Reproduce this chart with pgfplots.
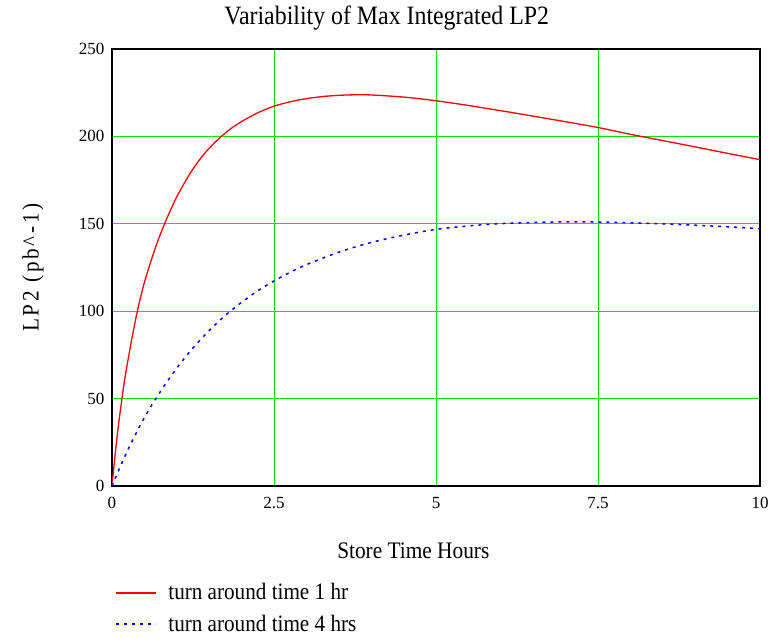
\documentclass[border=0pt]{standalone}
\usepackage{fontspec}
\setmainfont{Liberation Serif}
\newfontfamily\cond{Liberation Serif}[FakeStretch=0.9]
\newfontfamily\condsp{Liberation Serif}[FakeStretch=0.9,LetterSpace=12]
\usepackage{pgfplots}
\pgfplotsset{compat=1.18}
\definecolor{gridgreen}{RGB}{0,230,0}
\pgfplotstableread{
t v
0 0
0.05 18.5
0.1 35
0.15 49
0.2 62
0.3 83
0.4 101.5
0.5 116.5
0.6 128.5
0.7 139.5
0.8 149
0.9 157.5
1.0 165.5
1.2 178.5
1.4 189
1.6 197
1.8 203.5
2.0 208.5
2.25 213.5
2.5 217.3
2.75 219.8
3.0 221.6
3.25 222.8
3.5 223.5
3.75 223.8
4.0 223.7
4.5 222.5
5.0 220.4
5.5 217.7
6.0 214.7
6.5 211.6
7.0 208.4
7.5 205.1
8.0 201.2
8.5 197.6
9.0 194
9.5 190.3
10 186.7
}\redtab
\pgfplotstableread{
t v
0 0
0.1 8.8
0.2 17.1
0.3 24.9
0.4 32.2
0.5 39.1
0.6 45.5
0.7 51.3
0.8 57
1.0 67.5
1.2 76.8
1.4 85.1
1.6 92.6
1.8 99.2
2.0 105.1
2.25 111.7
2.5 117.3
2.75 122.3
3.0 126.6
3.5 133.8
4.0 139.3
4.5 143.5
5.0 146.8
5.5 148.8
6.0 150.1
6.5 150.8
7.0 151.1
7.5 151.0
8.0 150.6
8.5 150
9.0 149.2
9.5 148.3
10 147.2
}\bluetab
\begin{document}
\begin{tikzpicture}
\useasboundingbox (-112pt,-152pt) rectangle (661pt,486pt);
\begin{axis}[
  at={(0pt,0pt)}, anchor=south west,
  scale only axis, width=648pt, height=437pt,
  xmin=0, xmax=10, ymin=0, ymax=250,
  xtick={0,2.5,5,7.5,10}, ytick={0,50,100,150,200,250},
  major tick length=0pt,
  grid=major,
  major grid style={gridgreen, line width=1pt},
  axis line style={black, line width=1.5pt},
  /pgf/number format/assume math mode=true,
  ticklabel style={font=\fontsize{17}{20}\selectfont},
  yticklabel style={anchor=east, inner sep=0pt, xshift=-7.5pt},
  xticklabel style={anchor=north, inner sep=0pt, yshift=-11pt},
  title={\cond Variability of Max Integrated LP2},
  title style={at={(axis description cs:0.424,1.042)}, anchor=base, inner sep=0pt, font=\fontsize{26.5}{30}\selectfont},
  xlabel={\cond Store Time Hours},
  xlabel style={at={(axis description cs:0.465,-0.1654)}, anchor=base, inner sep=0pt, font=\fontsize{23.7}{26}\selectfont},
  ylabel={\condsp LP2 (pb\textasciicircum-1)},
  ylabel style={at={(axis description cs:-0.1219,0.5)}, anchor=center, inner sep=0pt, rotate=0, font=\fontsize{23.5}{26}\selectfont},
  legend cell align=left,
  legend style={at={(axis description cs:0.0046,-0.2235)}, anchor=north west, draw=none, fill=none,
    inner sep=0pt, row sep=13.3pt, column sep=11.7pt,
    font=\cond\fontsize{23.5}{26}\selectfont,
    nodes={inner sep=0pt, text height=16pt, text depth=2pt, anchor=base west}},
  legend image code/.code={\draw[#1] (0pt,7pt) -- (40pt,7pt);},
]
\addplot[red, line width=1.3pt, smooth] table[x=t, y=v] {\redtab};
\addlegendentry{turn around time 1 hr}
\addplot[blue, line width=1.5pt, dash pattern=on 3pt off 5pt, smooth] table[x=t, y=v] {\bluetab};
\addlegendentry{turn around time 4 hrs}
\end{axis}
\end{tikzpicture}
\end{document}
